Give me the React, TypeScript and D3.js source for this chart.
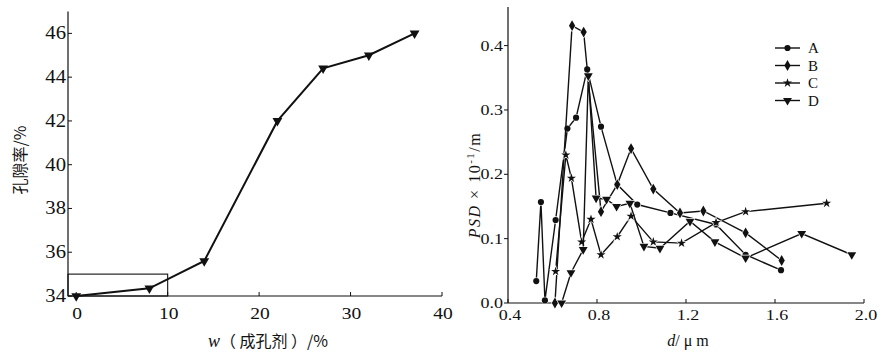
import * as d3 from "d3";

// left panel: porosity vs. pore-former content
const porogen = [0, 8, 14, 22, 27, 32, 37];
const porosity = [34, 34.35, 35.6, 42, 44.4, 45, 46];
const porogenTicks = [0, 10, 20, 30, 40];
const porosityTicks = [34, 36, 38, 40, 42, 44, 46];

// right panel: pore size distribution, one pair of arrays per sample
const dA = [0.527, 0.548, 0.566, 0.614, 0.667, 0.706, 0.756, 0.818, 0.891, 0.981, 1.13, 1.335, 1.468, 1.627];
const psdA = [0.034, 0.157, 0.004, 0.129, 0.271, 0.288, 0.363, 0.274, 0.184, 0.153, 0.14, 0.122, 0.075, 0.051];
const dB = [0.611, 0.688, 0.74, 0.818, 0.891, 0.953, 1.053, 1.173, 1.278, 1.468, 1.63];
const psdB = [0, 0.431, 0.421, 0.142, 0.184, 0.24, 0.177, 0.14, 0.143, 0.109, 0.066];
const dC = [0.614, 0.66, 0.685, 0.731, 0.773, 0.818, 0.891, 0.953, 1.053, 1.18, 1.335, 1.468, 1.832];
const psdC = [0.049, 0.23, 0.194, 0.095, 0.13, 0.075, 0.103, 0.135, 0.095, 0.093, 0.125, 0.142, 0.155];
const dD = [0.641, 0.683, 0.738, 0.761, 0.796, 0.843, 0.888, 0.948, 1.011, 1.083, 1.218, 1.33, 1.468, 1.72, 1.945];
const psdD = [0, 0.047, 0.083, 0.353, 0.163, 0.161, 0.15, 0.155, 0.088, 0.085, 0.127, 0.095, 0.07, 0.108, 0.075];
const sampleNames = ["A", "B", "C", "D"];
const dTicks = [0.4, 0.8, 1.2, 1.6, 2.0];
const psdTicks = [0, 0.1, 0.2, 0.3, 0.4];

const serif = { fontFamily: '"Liberation Serif", "Times New Roman", "DejaVu Serif", serif' };
const cjk = { fontFamily: '"Noto Sans CJK SC", sans-serif' };
const ink = "#111";

export default function App() {
  // ---- left panel scales
  const xL = d3.scaleLinear().domain([-0.9, 40]).range([68, 442]);
  const yL = d3.scaleLinear().domain([34, 47]).range([296, 11.5]);
  const lineL = d3
    .line<number>()
    .x((_, i) => xL(porogen[i]))
    .y((v) => yL(v));
  const triDown = d3.symbol(d3.symbolTriangle, 42)();

  // ---- right panel scales
  const xR = d3.scaleLinear().domain([0.4, 2.0]).range([508, 864]);
  const yR = d3.scaleLinear().domain([0, 0.46]).range([303, 7]);

  const samples = [
    { name: sampleNames[0], d: dA, v: psdA, sym: d3.symbol(d3.symbolCircle, 30)(), rot: 0 },
    { name: sampleNames[1], d: dB, v: psdB, sym: d3.symbol(d3.symbolDiamond, 34)(), rot: 0 },
    { name: sampleNames[2], d: dC, v: psdC, sym: d3.symbol(d3.symbolStar, 26)(), rot: 0 },
    { name: sampleNames[3], d: dD, v: psdD, sym: d3.symbol(d3.symbolTriangle, 34)(), rot: 180 },
  ];

  return (
    <svg
      width={889}
      height={363}
      style={{ position: "absolute", left: 0, top: 0, background: "#fff" }}
    >
      {/* ================= LEFT PANEL ================= */}
      <g>
        <line x1={xL.range()[0]} x2={xL.range()[0]} y1={yL.range()[1]} y2={yL.range()[0]} stroke={ink} strokeWidth={1.2} />
        <line x1={xL.range()[0]} x2={xL.range()[1]} y1={yL.range()[0]} y2={yL.range()[0]} stroke={ink} strokeWidth={1.2} />
        {porosityTicks.map((t) => (
          <g key={t}>
            <line x1={xL.range()[0]} x2={xL.range()[0] + 4} y1={yL(t)} y2={yL(t)} stroke={ink} />
            <text
              transform={`translate(66,${yL(t) + 6}) scale(1.15,1)`}
              textAnchor="end"
              style={serif}
              fontSize={18}
              fill={ink}
            >
              {t}
            </text>
          </g>
        ))}
        {porogenTicks.map((t) => (
          <g key={t}>
            <line x1={xL(t)} x2={xL(t)} y1={yL.range()[0]} y2={yL.range()[0] - 4} stroke={ink} />
            <text
              transform={`translate(${xL(t) + 1},319) scale(1.15,1)`}
              textAnchor="middle"
              style={serif}
              fontSize={17}
              fill={ink}
            >
              {t}
            </text>
          </g>
        ))}
        {/* highlight box for the low-content region */}
        <rect
          x={xL.range()[0]}
          y={yL(35)}
          width={xL(10) - xL.range()[0]}
          height={yL(34) - yL(35)}
          fill="none"
          stroke={ink}
          strokeWidth={1.1}
        />
        <path d={lineL(porosity) ?? ""} fill="none" stroke={ink} strokeWidth={2} />
        {porosity.map((v, i) => (
          <path
            key={i}
            d={triDown ?? ""}
            transform={`translate(${xL(porogen[i])},${yL(v)}) rotate(180)`}
            fill={ink}
          />
        ))}
        <text
          transform="translate(26,160) rotate(-90)"
          textAnchor="middle"
          style={cjk}
          fontSize={16}
          fill={ink}
        >
          孔隙率/%
        </text>
        <text x={268} y={347} textAnchor="middle" style={cjk} fontSize={16} fill={ink}>
          <tspan style={serif} fontStyle="italic" fontSize={18}>w</tspan>（ 成孔剂 ）/%
        </text>
      </g>

      {/* ================= RIGHT PANEL ================= */}
      <g>
        <line x1={xR.range()[0]} x2={xR.range()[0]} y1={yR.range()[1]} y2={yR.range()[0]} stroke={ink} strokeWidth={1.2} />
        <line x1={xR.range()[0]} x2={xR.range()[1]} y1={yR.range()[0]} y2={yR.range()[0]} stroke={ink} strokeWidth={1.2} />
        {psdTicks.map((t) => (
          <g key={t}>
            <line x1={xR.range()[0]} x2={xR.range()[0] - 4} y1={yR(t)} y2={yR(t)} stroke={ink} />
            <text
              transform={`translate(503,${yR(t) + 5}) scale(1.2,1)`}
              textAnchor="end"
              style={serif}
              fontSize={15}
              fill={ink}
            >
              {t.toFixed(1)}
            </text>
          </g>
        ))}
        {dTicks.map((t) => (
          <g key={t}>
            <line x1={xR(t)} x2={xR(t)} y1={yR.range()[0]} y2={yR.range()[0] - 4} stroke={ink} />
            <text
              transform={`translate(${xR(t) + 2},320) scale(1.2,1)`}
              textAnchor="middle"
              style={serif}
              fontSize={15}
              fill={ink}
            >
              {t.toFixed(1)}
            </text>
          </g>
        ))}
        {samples.map((s) => {
          const line = d3
            .line<number>()
            .x((_, i) => xR(s.d[i]))
            .y((v) => yR(v));
          return (
            <g key={s.name}>
              <path d={line(s.v) ?? ""} fill="none" stroke={ink} strokeWidth={1.4} />
              {s.v.map((v, i) => (
                <path
                  key={i}
                  d={s.sym ?? ""}
                  transform={`translate(${xR(s.d[i])},${yR(v)}) rotate(${s.rot})`}
                  fill={ink}
                  stroke="#fff"
                  strokeWidth={1.2}
                  paintOrder="stroke"
                />
              ))}
            </g>
          );
        })}
        {/* legend */}
        {samples.map((s, i) => {
          const ly = 48 + i * 17.5;
          return (
            <g key={s.name}>
              <line x1={775} x2={800} y1={ly} y2={ly} stroke={ink} strokeWidth={1.4} />
              <path d={s.sym ?? ""} transform={`translate(787.5,${ly}) rotate(${s.rot})`} fill={ink} />
              <text x={808} y={ly + 5} style={serif} fontSize={15} fill={ink}>
                {s.name}
              </text>
            </g>
          );
        })}
        <text
          transform="translate(480,185) rotate(-90)"
          textAnchor="middle"
          style={serif}
          fontSize={16}
          letterSpacing={1.5}
          fill={ink}
        >
          <tspan fontStyle="italic">PSD</tspan>
          <tspan> × 10</tspan>
          <tspan dy={-6} fontSize={11}>-1</tspan>
          <tspan dy={6}>/m</tspan>
        </text>
        <text x={688} y={346} textAnchor="middle" style={serif} fontSize={16} fill={ink}>
          <tspan fontStyle="italic">d</tspan>/ μ m
        </text>
      </g>
    </svg>
  );
}
